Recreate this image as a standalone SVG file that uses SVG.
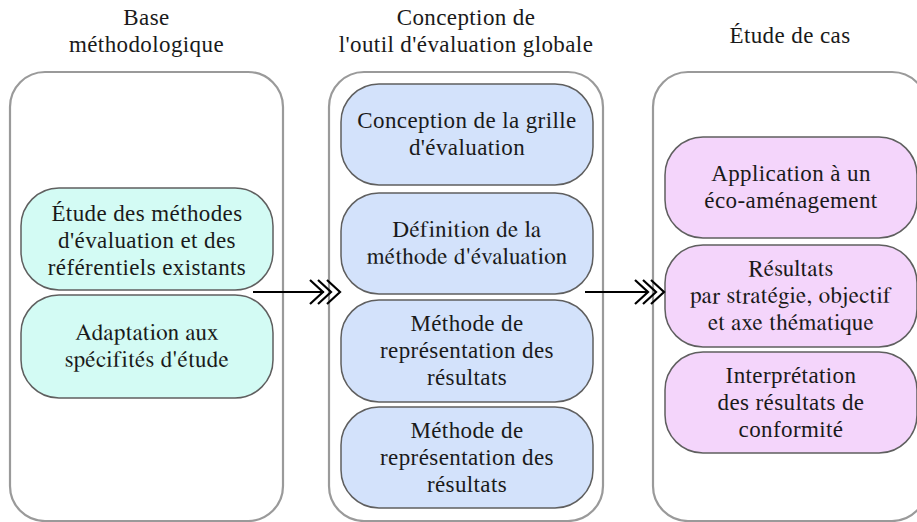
<svg xmlns="http://www.w3.org/2000/svg" width="917" height="522" viewBox="0 0 917 522">
<style>
text{font-size:23px;fill:#1a1a1a;text-anchor:middle;letter-spacing:0.4px}
.outer{fill:#fff;stroke:#9a9a9a;stroke-width:2.2}
.inner{stroke:#5f5f5f;stroke-width:1.5}
.cy{fill:#d3fbf4}
.bl{fill:#d3e2fb}
.pk{fill:#f4d5fb}
.ln{fill:none;stroke:#000;stroke-width:2.2}
</style>
<rect width="917" height="522" fill="#fff"/>
<g id="titles" font-family="Liberation Serif">
<text x="146.5" y="25">Base</text>
<text x="146.5" y="52">méthodologique</text>
<text x="466" y="25">Conception de</text>
<text x="466" y="52">l'outil d'évaluation globale</text>
<text x="790" y="43">Étude de cas</text>
</g>
<g id="col1">
<rect class="outer" x="10" y="72" width="273" height="449" rx="35"/>
</g>
<g id="col2">
<rect class="outer" x="329" y="72" width="274" height="449" rx="35"/>
</g>
<g id="col3">
<rect class="outer" x="653" y="72" width="274" height="449" rx="35"/>
</g>
<g id="n1" font-family="Tinos, Liberation Serif, serif">
<rect class="inner cy" x="21" y="188" width="252" height="102" rx="38"/>
<text x="147" y="221">Étude des méthodes</text>
<text x="147" y="248">d'évaluation et des</text>
<text x="147" y="275">référentiels existants</text>
</g>
<g id="n2" font-family="FreeSerif, Liberation Serif, serif">
<rect class="inner cy" x="21" y="295" width="252" height="103" rx="38"/>
<text x="147" y="340">Adaptation aux</text>
<text x="147" y="367">spécifités d'étude</text>
</g>
<g id="n3" font-family="Tinos, Liberation Serif, serif">
<rect class="inner bl" x="341" y="84" width="252" height="101" rx="38"/>
<text x="467" y="128">Conception de la grille</text>
<text x="467" y="155">d'évaluation</text>
</g>
<g id="n4" font-family="FreeSerif, Liberation Serif, serif">
<rect class="inner bl" x="341" y="193" width="252" height="101" rx="38"/>
<text x="467" y="237">Définition de la</text>
<text x="467" y="264">méthode d'évaluation</text>
</g>
<g id="n5" font-family="Times New Roman, Liberation Serif, serif">
<rect class="inner bl" x="341" y="300" width="252" height="102" rx="38"/>
<text x="467" y="331">Méthode de</text>
<text x="467" y="358">représentation des</text>
<text x="467" y="385">résultats</text>
</g>
<g id="n6" font-family="serif">
<rect class="inner bl" x="341" y="407" width="252" height="101" rx="38"/>
<text x="467" y="438">Méthode de</text>
<text x="467" y="465">représentation des</text>
<text x="467" y="492">résultats</text>
</g>
<g id="n7" font-family="Tinos, Liberation Serif, serif">
<rect class="inner pk" x="665" y="137" width="252" height="101" rx="38"/>
<text x="791" y="181">Application à un</text>
<text x="791" y="208">éco-aménagement</text>
</g>
<g id="n8" font-family="FreeSerif, Liberation Serif, serif">
<rect class="inner pk" x="665" y="245" width="252" height="102" rx="38"/>
<text x="791" y="276">Résultats</text>
<text x="791" y="303">par stratégie, objectif</text>
<text x="791" y="330">et axe thématique</text>
</g>
<g id="n9" font-family="serif">
<rect class="inner pk" x="665" y="352" width="252" height="101" rx="38"/>
<text x="791" y="383">Interprétation</text>
<text x="791" y="410">des résultats de</text>
<text x="791" y="437">conformité</text>
</g>
<g id="connectors">
<line class="ln" x1="253" y1="292" x2="324" y2="292"/>
<polyline class="ln" points="310,280 323,292 310,304"/>
<polyline class="ln" points="318,280 331,292 318,304"/>
<polyline class="ln" points="327,280 340,292 327,304"/>
<line class="ln" x1="585" y1="292" x2="648" y2="292"/>
<polyline class="ln" points="635,280 648,292 635,304"/>
<polyline class="ln" points="643,280 656,292 643,304"/>
<polyline class="ln" points="651,280 664,292 651,304"/>
</g>
</svg>
